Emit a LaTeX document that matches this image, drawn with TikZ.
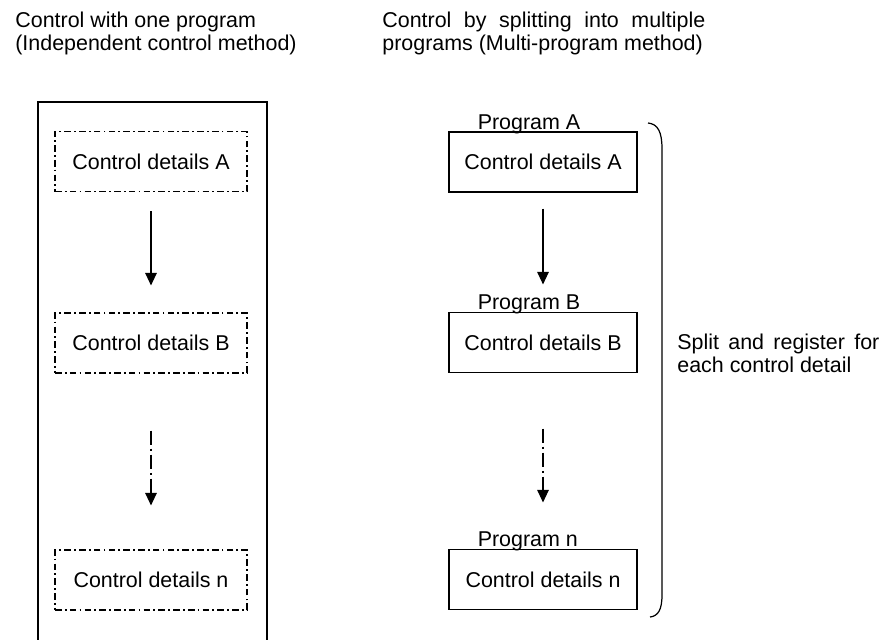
\documentclass[tikz,border=0pt]{standalone}
\usepackage{fontspec}
\setmainfont{Liberation Sans}
\usepackage{tikz}
\usetikzlibrary{arrows.meta,positioning,calc}

\begin{document}
\begin{tikzpicture}[
  x=1cm, y=1cm,
  every node/.style={font=\fontsize{12.2}{13}\selectfont, inner sep=0pt},
  ttl/.style ={anchor=north west, align=left},
  detl/.style={draw, line width=0.65pt, minimum width=3.84cm, minimum height=1.2cm,
               dash pattern=on 3.8pt off 1.8pt on 1pt off 1.8pt},
  prog/.style={draw, line width=0.65pt, minimum width=3.76cm, minimum height=1.2cm},
  plab/.style={anchor=base west},
  seq/.style ={-{Triangle[length=2.5mm,width=2.3mm]}, line width=0.65pt},
  etc/.style ={seq, dash pattern=on 8pt off 2.3pt on 1.1pt off 2.3pt}]

\useasboundingbox (0,0) rectangle (17.64,-12.78);

\node[ttl] (tl) at (0.30,-0.23) {Control with one program\\(Independent control method)};
\node[ttl] (tr) at (7.64,-0.23)
  {\makebox[6.46cm][s]{Control by splitting into multiple}\\programs (Multi-program method)};

% one program: all the details inside a single frame
\draw[line width=0.65pt] (0.76,-13) |- (5.34,-2.04) -- (5.34,-13);

\node[detl] (la) at (3.02,-3.23) {Control details A};
\node[detl] (lb) at (3.02,-6.86) {Control details B};
\node[detl] (ln) at (3.02,-11.6) {Control details n};

\draw[seq] ($(la.south)+(0,-0.38)$) -- ($(lb.north)+(0,0.54)$);
\draw[etc] ($(lb.south)+(0,-1.14)$) -- ($(ln.north)+(0,0.88)$);

% multi-program: one program per detail
\node[prog] (ra) at (10.86,-3.24) {Control details A};
\node[prog] (rb) at (10.86,-6.85) {Control details B};
\node[prog] (rn) at (10.86,-11.59) {Control details n};

\node[plab] (pa) at ($(ra.north west)+(0.58,0.04)$) {Program A};
\node[plab] (pb) at ($(rb.north west)+(0.58,0.04)$) {Program B};
\node[plab] (pn) at ($(rn.north west)+(0.58,0.04)$) {Program n};

\draw[seq] ($(ra.south)+(0,-0.32)$) -- ($(rb.north)+(0,0.55)$);
\draw[etc] ($(rb.south)+(0,-1.11)$) -- ($(rn.north)+(0,0.93)$);

% ---------------------------- brace --------------------------------
\draw[line width=0.7pt] (12.96,-2.46) .. controls (13.16,-2.48) and (13.24,-2.64) .. (13.24,-2.98)
  -- (13.24,-11.9) .. controls (13.24,-12.2) and (13.16,-12.32) .. (13.0,-12.34);
\node[ttl] (split) at (13.54,-6.67)
  {\makebox[4.04cm][s]{Split and register for}\\each control detail};

\end{tikzpicture}
\end{document}
